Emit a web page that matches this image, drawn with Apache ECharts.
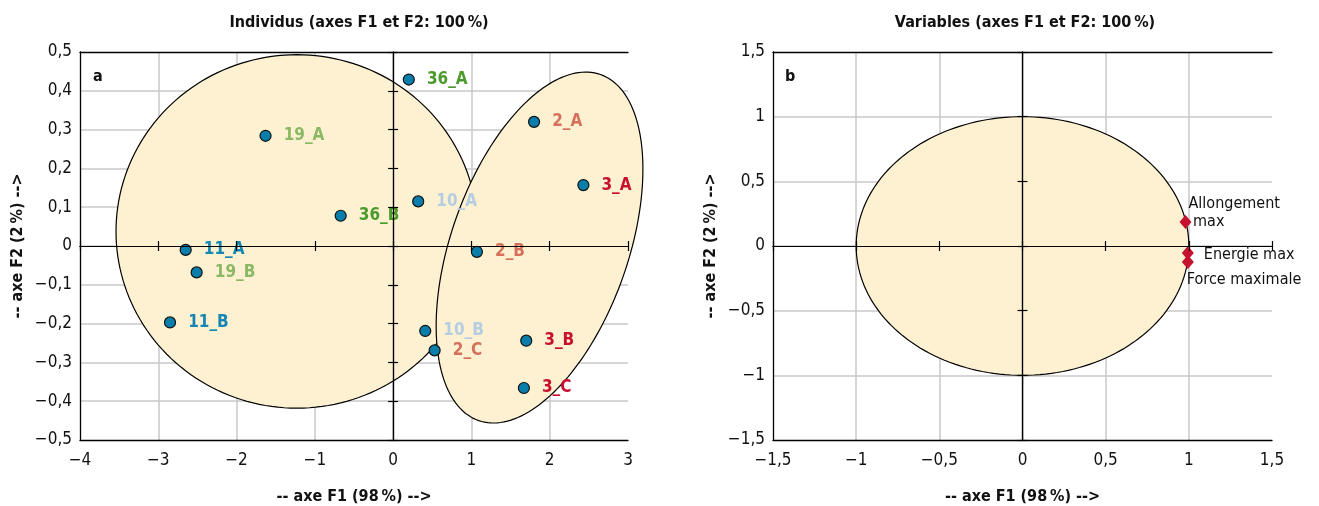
<!DOCTYPE html>
<html>
<head>
<meta charset="utf-8">
<script src="https://cdn.jsdelivr.net/npm/echarts@6/dist/echarts.min.js"></script>
<style>
html,body{margin:0;padding:0;background:#fff;}
#chart{width:1319px;height:506px;}
</style>
</head>
<body>
<div id="chart"></div>
<script>
// ---------- DATA ----------
// Panel a: individuals
const indivNames = ['36_A','2_A','3_A','19_A','36_B','10_A','11_A','2_B','19_B','11_B','10_B','2_C','3_B','3_C'];
const indivF1    = [0.20, 1.80, 2.43, -1.63, -0.67, 0.32, -2.65, 1.07, -2.51, -2.85, 0.41, 0.53, 1.70, 1.67];
const indivF2    = [0.429, 0.32, 0.157, 0.284, 0.078, 0.115, -0.010, -0.015, -0.068, -0.197, -0.219, -0.269, -0.244, -0.366];
// Ellipses (panel a): centre F1, centre F2, semi-axis 1 (dF1, dF2), semi-axis 2 (dF1, dF2)
const ellipseLeft  = [-1.23, 0.0375, 2.31, 0, 0, 0.4555];
const ellipseRight = [1.87, -0.004, 0.778, 0.446, -1.067, 0.075];
// Panel b: variables
const varNames = ['Allongement\n max', 'Energie max', 'Force maximale'];
const varF1    = [0.98, 0.994, 0.994];
const varF2    = [0.185, -0.054, -0.123];
// Correlation circle (panel b)
const circleB  = [0, 0, 1, 0, 0, 1];
// Axis ranges / ticks
const axisA_F1 = {min: -4, max: 3, interval: 1};
const axisA_F2 = {min: -0.5, max: 0.5, interval: 0.1};
const axisB_F1 = {min: -1.5, max: 1.5, interval: 0.5};
const axisB_F2 = {min: -1.5, max: 1.5, interval: 0.5};
// Texts
const titleA = 'Individus (axes F1 et F2: 100\u2009%)';
const titleB = 'Variables (axes F1 et F2: 100\u2009%)';
const nameF1 = '-- axe F1 (98\u2009%) -->';
const nameF2 = '-- axe F2 (2\u2009%) -->';

// ---------- STYLES ----------
const FONT = '"Liberation Sans Narrow","DejaVu Sans Condensed","Open Sans",sans-serif';
const labelColors = {'36':'#4b9a2c','19':'#8bb865','10':'#b5cde3','11':'#1687b3','2':'#d4705b','3':'#c8102e'};
const FILL = '#fdf1d2';
const GRIDC = '#c8c8c8';

function fmt(v){
  const r = Math.round(v*10)/10;
  return String(r).replace('.',',').replace('-','\u2212');
}

function buildAxes(gridIndex, rng, isX){
  const base = {gridIndex, type:'value', min:rng.min, max:rng.max, interval:rng.interval};
  const list = [];
  // frame axis with labels + grid lines
  list.push(Object.assign({}, base, {
    position: isX ? 'bottom' : 'left',
    axisLine:{show:true, onZero:false, lineStyle:{color:'#000', width:1.3}},
    axisTick:{show:false},
    axisLabel:{show:true, formatter:fmt, fontFamily:FONT, fontSize:17, color:'#111', margin: isX ? 12 : 8},
    splitLine:{show:true, showMaxLine:false, showMinLine:false, lineStyle:{color:GRIDC, width:1.5}},
    name: isX ? nameF1 : nameF2,
    nameLocation:'middle',
    nameGap: isX ? 49 : 54,
    nameTextStyle:{fontFamily:FONT, fontSize:16, fontWeight:'bold', color:'#111'},
    z:0
  }));
  if (isX) {
    // top frame line
    list.push(Object.assign({}, base, {
      position:'top',
      axisLine:{show:true, onZero:false, lineStyle:{color:'#000', width:1.3}},
      axisTick:{show:false}, axisLabel:{show:false}, splitLine:{show:false}, z:0
    }));
  }
  // zero axes, ticks inside & outside (crossing ticks)
  [true,false].forEach(inside => {
    list.push(Object.assign({}, base, {
      position: isX ? 'bottom' : 'left',
      axisLine:{show:true, onZero:true, lineStyle:{color:'#000', width:1.2}},
      axisTick:{show:true, inside:inside, length:5, lineStyle:{color:'#000', width:1.2}},
      axisLabel:{show:false}, splitLine:{show:false}, z:10
    }));
  });
  return list;
}

const xAxesA = buildAxes(0, axisA_F1, true);
const yAxesA = buildAxes(0, axisA_F2, false);
const xAxesB = buildAxes(1, axisB_F1, true);
const yAxesB = buildAxes(1, axisB_F2, false);
const xAxis = xAxesA.concat(xAxesB);
const yAxis = yAxesA.concat(yAxesB);
const xB0 = xAxesA.length, yB0 = yAxesA.length;

function ellipseRender(params, api){
  const cx=api.value(0), cy=api.value(1), ux=api.value(2), uy=api.value(3), vx=api.value(4), vy=api.value(5);
  const pts=[];
  const N=180;
  for(let i=0;i<=N;i++){
    const t=2*Math.PI*i/N;
    pts.push(api.coord([cx+ux*Math.cos(t)+vx*Math.sin(t), cy+uy*Math.cos(t)+vy*Math.sin(t)]));
  }
  return {type:'polygon', shape:{points:pts}, style:{fill:FILL, stroke:'#000', lineWidth:1.2}};
}

const indivData = indivNames.map((n,i) => ({
  value:[indivF1[i], indivF2[i]],
  name:n,
  label:{color: labelColors[n.split('_')[0]]}
}));

const varData = varNames.map((n,i) => {
  let label;
  if (i===0) label = {position:'right', distance:3, offset:[-6,-9], align:'left'};
  else if (i===1) label = {position:'right', distance:10, offset:[0,2]};
  else label = {position:'right', distance:3, offset:[-10,18]};
  return {value:[varF1[i], varF2[i]], name:n, label};
});

const option = {
  backgroundColor:'#fff',
  animation:false,
  title:[
    {text:titleA, left:354, top:10, textAlign:'center', textStyle:{fontFamily:FONT, fontSize:16, fontWeight:'bold', color:'#111'}},
    {text:titleB, left:1020, top:10, textAlign:'center', textStyle:{fontFamily:FONT, fontSize:16, fontWeight:'bold', color:'#111'}},
    {text:'a', left:88, top:64, textStyle:{fontFamily:FONT, fontSize:16, fontWeight:'bold', color:'#111'}},
    {text:'b', left:780, top:64, textStyle:{fontFamily:FONT, fontSize:16, fontWeight:'bold', color:'#111'}}
  ],
  grid:[
    {left:80, right:691, top:52, bottom:66, outerBoundsMode:'none', containLabel:false},
    {left:773, right:47, top:52, bottom:66, outerBoundsMode:'none', containLabel:false}
  ],
  xAxis:xAxis,
  yAxis:yAxis,
  series:[
    {type:'custom', xAxisIndex:0, yAxisIndex:0, renderItem:ellipseRender, clip:false, z:1,
     encode:{x:0, y:1}, data:[ellipseLeft, ellipseRight], silent:true},
    {type:'scatter', xAxisIndex:0, yAxisIndex:0, z:5, symbol:'circle', symbolSize:11,
     itemStyle:{color:'#0a7eab', borderColor:'#111', borderWidth:1.2, opacity:1},
     label:{show:true, position:'right', distance:12, formatter:'{b}', fontFamily:FONT, fontSize:17, fontWeight:'bold'},
     data:indivData},
    {type:'custom', xAxisIndex:xB0, yAxisIndex:yB0, renderItem:ellipseRender, clip:false, z:1,
     encode:{x:0, y:1}, data:[circleB], silent:true},
    {type:'scatter', xAxisIndex:xB0, yAxisIndex:yB0, z:5, symbol:'diamond', symbolSize:[12,14],
     itemStyle:{color:'#c4112f', opacity:1},
     label:{show:true, formatter:'{b}', fontFamily:FONT, fontSize:16, color:'#111', lineHeight:18},
     data:varData}
  ]
};

const chart = echarts.init(document.getElementById('chart'), null, {renderer:'canvas'});
chart.setOption(option);
</script>
</body>
</html>
